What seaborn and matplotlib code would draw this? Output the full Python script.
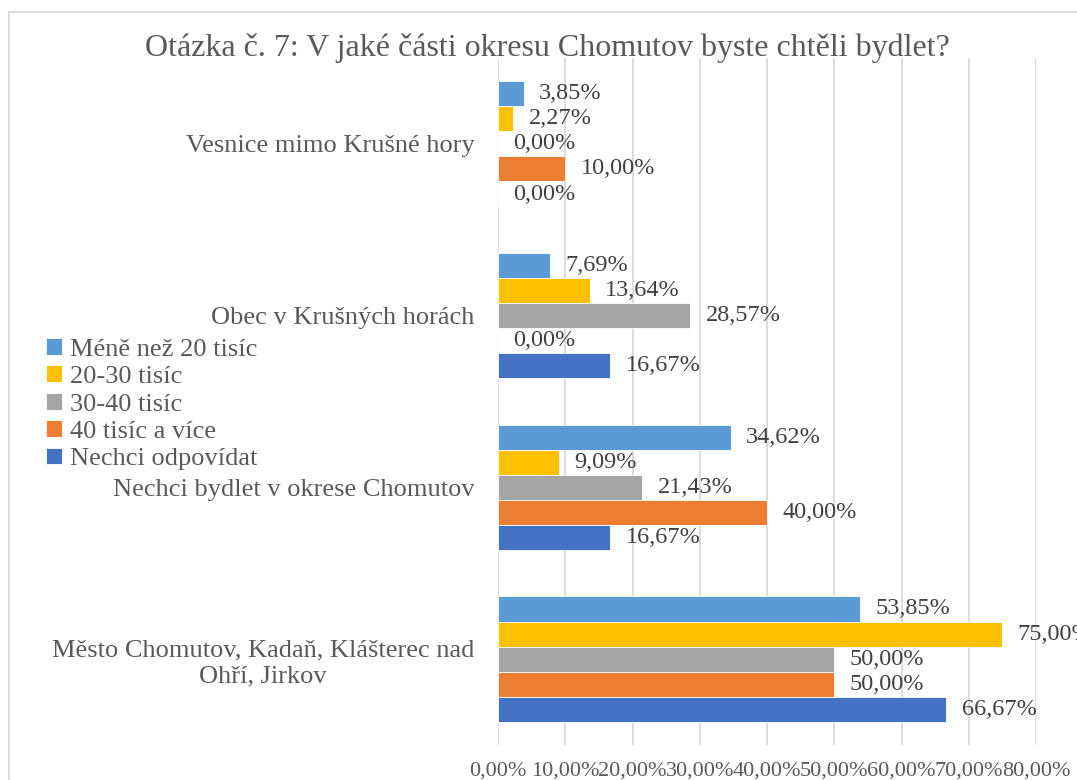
import pandas as pd
import numpy as np
import matplotlib.pyplot as plt
import seaborn as sns
from matplotlib.patches import Rectangle

kategorie = ['Vesnice mimo Krušné hory',
             'Obec v Krušných horách',
             'Nechci bydlet v okrese Chomutov',
             'Město Chomutov, Kadaň, Klášterec nad\nOhří, Jirkov']
skupiny = ['Méně než 20 tisíc', '20-30 tisíc', '30-40 tisíc', '40 tisíc a více', 'Nechci odpovídat']
barvy = ['#5B9BD5', '#FFC000', '#A5A5A5', '#ED7D31', '#4472C4']

mene_20 = [3.85, 7.69, 34.62, 53.85]
t20_30 = [2.27, 13.64, 9.09, 75.00]
t30_40 = [0.00, 28.57, 21.43, 50.00]
t40_vice = [10.00, 0.00, 40.00, 50.00]
nechci = [0.00, 16.67, 16.67, 66.67]

x_ticks = [0, 10, 20, 30, 40, 50, 60, 70, 80]

hodnoty = [mene_20, t20_30, t30_40, t40_vice, nechci]
rows = []
for s, vals in zip(skupiny, hodnoty):
    for k, v in zip(kategorie, vals):
        rows.append({'kategorie': k, 'skupina': s, 'hodnota': v})
df = pd.DataFrame(rows)

sns.set_theme(style="white")
plt.rcParams['font.family'] = ['Liberation Serif', 'DejaVu Serif']
grey_txt = '#595959'

fig = plt.figure(figsize=(10.77, 7.8), dpi=100)
ax = fig.add_axes([498/1077, 1 - 745/780, (1036 - 498)/1077, (745 - 58)/780])

sns.barplot(data=df, y='kategorie', x='hodnota', hue='skupina', orient='h',
            order=kategorie, hue_order=skupiny, palette=barvy, width=0.73,
            saturation=1, edgecolor='white', linewidth=0.6, errorbar=None,
            ax=ax, legend=True)

for c in ax.containers:
    labels = [f"{v:.2f}".replace('.', ',') + '%' for v in c.datavalues]
    ax.bar_label(c, labels=labels, padding=11, fontsize=17.5, color='#404040',
                 clip_on=False)

ax.set_xlim(0, 80)
ax.set_xticks(x_ticks)
ax.set_xticklabels([f"{t:.2f}".replace('.', ',') + '%' for t in x_ticks],
                   fontsize=16, color=grey_txt)
ax.tick_params(axis='x', length=0, pad=12)
ax.tick_params(axis='y', length=0, pad=17, labelsize=19, labelcolor=grey_txt)
for lab in ax.get_yticklabels():
    lab.set_multialignment('center')
ax.grid(axis='x', color='#D9D9D9', linewidth=1.3)
ax.set_axisbelow(True)
for sp in ax.spines.values():
    sp.set_visible(False)
ax.set_xlabel('')
ax.set_ylabel('')

handles, labs = ax.get_legend_handles_labels()
ax.get_legend().remove()
fig.legend(handles, labs, loc='upper left', bbox_to_anchor=(46/1077, 1 - 338/780),
           frameon=False, fontsize=19, handlelength=0.6, handleheight=0.6,
           handletextpad=0.3, labelspacing=0.18, labelcolor=grey_txt,
           borderaxespad=0, borderpad=0)

fig.text(547/1077, 1 - 48/780,
         'Otázka č. 7: V jaké části okresu Chomutov byste chtěli bydlet?',
         ha='center', va='center', fontsize=23, color=grey_txt)

fig.patches.append(Rectangle((9/1077, -0.1), 1.2, 1 - 12/780 + 0.1,
                             transform=fig.transFigure, fill=False,
                             edgecolor='#D9D9D9', linewidth=1.3))

plt.savefig('out.png', dpi=100)
